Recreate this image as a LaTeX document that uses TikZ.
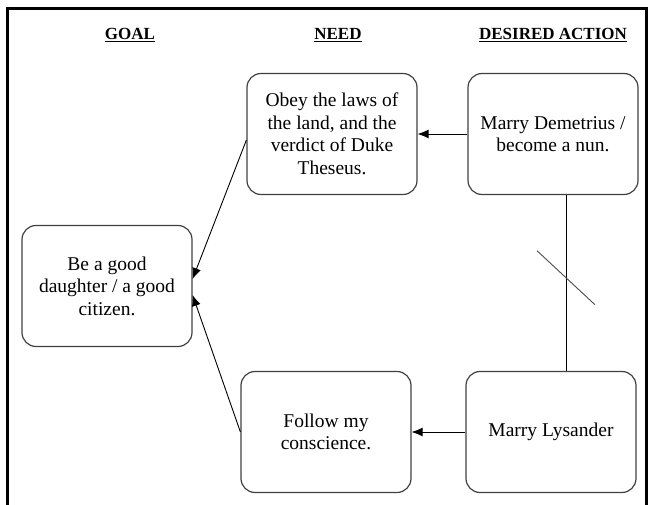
\documentclass[tikz,border=0pt]{standalone}
\usepackage{fontspec}
\setmainfont{Liberation Serif}
\usepackage{tikz}
\usetikzlibrary{arrows.meta, positioning}
\tikzstyle{box} = [rectangle, rounded corners=14pt, minimum width=170pt, minimum height=121pt, align=center, draw=black!75, line width=1.2pt, font=\fontsize{19.5}{22.5}\selectfont]
\tikzstyle{heading} = [font=\bfseries\fontsize{17}{20}\selectfont]
\tikzstyle{arrow} = [->, >={Latex[length=11pt, width=9pt]}, line width=0.9pt]
\tikzstyle{link} = [line width=0.9pt]

\begin{document}
\begin{tikzpicture}[x=1pt, y=-1pt, node distance = 221pt]
\useasboundingbox (0,0) rectangle (649,505);
\draw[line width=3pt] (7,505) -- (7,9) -- (646,9) -- (646,505);

\node (goalhead) [heading] at (130,35) {\underline{GOAL}};
\node (needhead) [heading] at (338,35) {\underline{NEED}};
\node (acthead) [heading] at (553,35) {\underline{DESIRED ACTION}};

\node (goal) [box] at (107,286) {Be a good\\daughter / a good\\citizen.};
\node (obey) [box] at (332,134) {Obey the laws of\\the land, and the\\verdict of Duke\\Theseus.};
\node (demetrius) [box, right of=obey] {Marry Demetrius /\\become a nun.};
\node (lysander) [box, below of=demetrius, node distance=298pt, xshift=-2pt] {Marry Lysander};
\node (follow) [box, left of=lysander, node distance=225pt] {Follow my\\conscience.};

\draw[arrow] (demetrius) -- (obey);
\draw[arrow] (lysander) -- (follow);
\draw[arrow] ([yshift=-6pt]obey.west) -- ([yshift=7pt]goal.east);
\draw[arrow] (follow.west) -- ([yshift=-9pt]goal.east);
\draw[link] ([xshift=13pt]demetrius.south) -- coordinate[pos=0.47] (cut) ([xshift=15pt]lysander.north);
\draw[link, black!70] ([shift={(-29pt,27pt)}]cut) -- ([shift={(29pt,-27pt)}]cut);
\end{tikzpicture}
\end{document}
